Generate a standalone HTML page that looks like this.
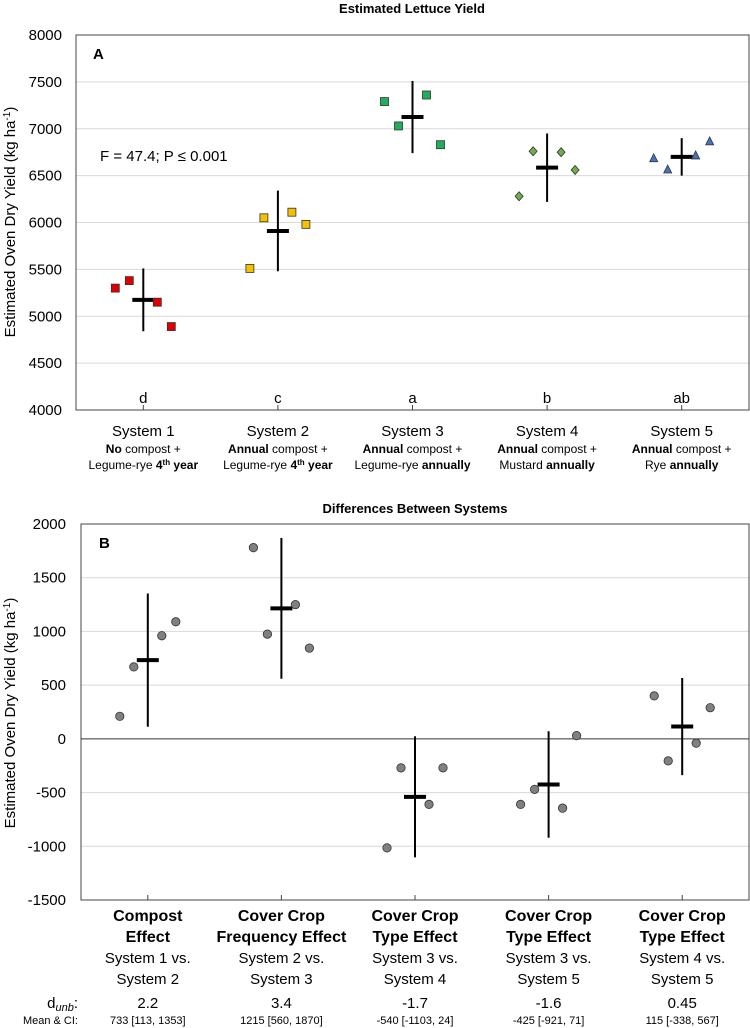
<!DOCTYPE html>
<html><head><meta charset="utf-8"><style>
body{margin:0;background:#fff;width:750px;height:1028px;overflow:hidden}
svg{display:block;font-family:"Liberation Sans",Arial,sans-serif}
</style></head><body>
<svg id="fig" width="750" height="1028" xmlns="http://www.w3.org/2000/svg">
<text x="412" y="13" text-anchor="middle" font-size="13" font-weight="bold">Estimated Lettuce Yield</text>
<text x="415" y="513" text-anchor="middle" font-size="13" font-weight="bold">Differences Between Systems</text>
<g id="gA"></g>
<g id="gB"></g>
</svg>
<script>
// Chart A data
const catsA = ["System 1","System 2","System 3","System 4","System 5"];
const lettersA = ["d","c","a","b","ab"];
const pointsA = [[5300,5380,5150,4890],[5510,6050,6110,5980],[7290,7030,7360,6830],[6280,6760,6750,6560],[6680,6560,6710,6860]];
const meansA = [5175,5910,7125,6585,6700];
const ciLowA = [4840,5480,6740,6220,6500];
const ciHighA = [5510,6340,7510,6950,6900];
const ticksA = [4000,4500,5000,5500,6000,6500,7000,7500,8000];
// Chart B data
const catsB = [["Compost","Effect"],["Cover Crop","Frequency Effect"],["Cover Crop","Type Effect"],["Cover Crop","Type Effect"],["Cover Crop","Type Effect"]];
const subB = [["System 1 vs.","System 2"],["System 2 vs.","System 3"],["System 3 vs.","System 4"],["System 3 vs.","System 5"],["System 4 vs.","System 5"]];
const pointsB = [[210,670,960,1090],[1780,975,1250,845],[-1015,-270,-610,-270],[-610,-470,-645,30],[400,-205,-40,290]];
const meansB = [733,1215,-540,-425,115];
const ciLowB = [113,560,-1103,-921,-338];
const ciHighB = [1353,1870,24,71,567];
const dunb = ["2.2","3.4","-1.7","-1.6","0.45"];
const meanCI = ["733 [113, 1353]","1215 [560, 1870]","-540 [-1103, 24]","-425 [-921, 71]","115 [-338, 567]"];
const ticksB = [-1500,-1000,-500,0,500,1000,1500,2000];

const NS="http://www.w3.org/2000/svg";
function mk(parent,tag,attrs,text){const e=document.createElementNS(NS,tag);for(const k in attrs)e.setAttribute(k,attrs[k]);if(text!==undefined)e.textContent=text;parent.appendChild(e);return e;}
const offs=[-28,-14,14,28];

// ---- Chart A ----
(function(){
const g=document.getElementById('gA');
const L=76,R=749,T=35,B=410;
const y=v=>B-(v-4000)/4000*(B-T);
const x=i=>L+(i+0.5)*(R-L)/5;
ticksA.forEach(t=>{
  if(t>4000&&t<8000){const gl=mk(g,'line',{x1:L,x2:R,y1:y(t),y2:y(t),stroke:'#d9d9d9','stroke-width':1});
  
  }
  const tl=mk(g,'text',{x:62,y:y(t)+5,'text-anchor':'end','font-size':15},t);
  
  
});
const ax=mk(g,'rect',{x:L,y:T,width:R-L,height:B-T,fill:'none',stroke:'#444','stroke-width':1});


const yt=mk(g,'text',{transform:'translate(15,222) rotate(-90)','text-anchor':'middle','font-size':15},'');
yt.innerHTML='Estimated Oven Dry Yield (kg ha<tspan dy="-5" font-size="10">-1</tspan><tspan dy="5">)</tspan>';


const pl=mk(g,'text',{x:93,y:59,'font-size':15,'font-weight':'bold'},'A');


const ft=mk(g,'text',{x:100,y:161,'font-size':15},'F = 47.4; P ≤ 0.001');


const fills=['#e00000','#f4c000','#1fae5a','#70ad47','#4472c4'];
const subs=[['<tspan font-weight="bold">No</tspan> compost +','Legume-rye <tspan font-weight="bold">4<tspan dy="-4" font-size="8">th</tspan><tspan dy="4"> year</tspan></tspan>'],
 ['<tspan font-weight="bold">Annual</tspan> compost +','Legume-rye <tspan font-weight="bold">4<tspan dy="-4" font-size="8">th</tspan><tspan dy="4"> year</tspan></tspan>'],
 ['<tspan font-weight="bold">Annual</tspan> compost +','Legume-rye <tspan font-weight="bold">annually</tspan>'],
 ['<tspan font-weight="bold">Annual</tspan> compost +','Mustard <tspan font-weight="bold">annually</tspan>'],
 ['<tspan font-weight="bold">Annual</tspan> compost +','Rye <tspan font-weight="bold">annually</tspan>']];
catsA.forEach((c,i)=>{
  const cx=x(i);
  const tk=mk(g,'line',{x1:cx,x2:cx,y1:B,y2:B-5,stroke:'#444'});
  
  
  const lt=mk(g,'text',{x:cx,y:403,'text-anchor':'middle','font-size':15},lettersA[i]);
  
  
  const cl=mk(g,'text',{x:cx,y:436,'text-anchor':'middle','font-size':15},c);
  
  
  subs[i].forEach((s,j)=>{const st=mk(g,'text',{x:cx,y:453+j*16,'text-anchor':'middle','font-size':12},'');st.innerHTML=s;
   
   });
  const ci=mk(g,'line',{x1:cx,x2:cx,y1:y(ciLowA[i]),y2:y(ciHighA[i]),stroke:'#000','stroke-width':2});
  
  
  const mn=mk(g,'line',{x1:cx-11,x2:cx+11,y1:y(meansA[i]),y2:y(meansA[i]),stroke:'#000','stroke-width':4});
  
  
  pointsA[i].forEach((v,k)=>{
    const px=cx+offs[k],py=y(v);let m;
    if(i<3) m=mk(g,'rect',{x:px-4,y:py-4,width:8,height:8,fill:fills[i],stroke:'#333','stroke-width':0.8});
    else if(i==3) m=mk(g,'polygon',{points:`${px},${py-4.5} ${px+4},${py} ${px},${py+4.5} ${px-4},${py}`,fill:fills[i],stroke:'#333','stroke-width':0.8});
    else m=mk(g,'polygon',{points:`${px},${py-5} ${px+4},${py+3} ${px-4},${py+3}`,fill:fills[i],stroke:'#333','stroke-width':0.8});
    
    
  });
});
})();

// ---- Chart B ----
(function(){
const g=document.getElementById('gB');
const L=81,R=749,T=524,B=900;
const y=v=>B-(v+1500)/3500*(B-T);
const x=i=>L+(i+0.5)*(R-L)/5;
ticksB.forEach(t=>{
  if(t>-1500&&t<2000){const gl=mk(g,'line',{x1:L,x2:R,y1:y(t),y2:y(t),stroke:t==0?'#333':'#d9d9d9','stroke-width':1});
  
  }
  const tl=mk(g,'text',{x:66,y:y(t)+5,'text-anchor':'end','font-size':15},t);
  
  
});
const ax=mk(g,'rect',{x:L,y:T,width:R-L,height:B-T,fill:'none',stroke:'#444','stroke-width':1});


const yt=mk(g,'text',{transform:'translate(15,713) rotate(-90)','text-anchor':'middle','font-size':15},'');
yt.innerHTML='Estimated Oven Dry Yield (kg ha<tspan dy="-5" font-size="10">-1</tspan><tspan dy="5">)</tspan>';


const pl=mk(g,'text',{x:99,y:548,'font-size':15,'font-weight':'bold'},'B');


const dl=mk(g,'text',{x:78,y:1008,'text-anchor':'end','font-size':15},'');
dl.innerHTML='d<tspan font-size="11" font-style="italic" dy="3">unb</tspan><tspan dy="-3">:</tspan>';


const ml=mk(g,'text',{x:78,y:1024,'text-anchor':'end','font-size':11},'Mean & CI:');


catsB.forEach((c,i)=>{
  const cx=x(i);
  const tk=mk(g,'line',{x1:cx,x2:cx,y1:B,y2:B-5,stroke:'#444'});
  
  
  c.forEach((s,j)=>{const t=mk(g,'text',{x:cx,y:921+j*21,'text-anchor':'middle','font-size':16,'font-weight':'bold'},s);
   
   });
  subB[i].forEach((s,j)=>{const t=mk(g,'text',{x:cx,y:963+j*21,'text-anchor':'middle','font-size':15},s);
   
   });
  const dv=mk(g,'text',{x:cx,y:1008,'text-anchor':'middle','font-size':15},dunb[i]);
  
  
  const mv=mk(g,'text',{x:cx,y:1024,'text-anchor':'middle','font-size':11},meanCI[i]);
  
  
  const ci=mk(g,'line',{x1:cx,x2:cx,y1:y(ciLowB[i]),y2:y(ciHighB[i]),stroke:'#000','stroke-width':2});
  
  
  const mn=mk(g,'line',{x1:cx-11,x2:cx+11,y1:y(meansB[i]),y2:y(meansB[i]),stroke:'#000','stroke-width':4});
  
  
  pointsB[i].forEach((v,k)=>{
    const m=mk(g,'circle',{cx:cx+offs[k]-(k<2?-1:1)*0,cy:y(v),r:4.2,fill:'#808080',stroke:'#333','stroke-width':0.8});
    
    
  });
});
})();
</script>
</body></html>
